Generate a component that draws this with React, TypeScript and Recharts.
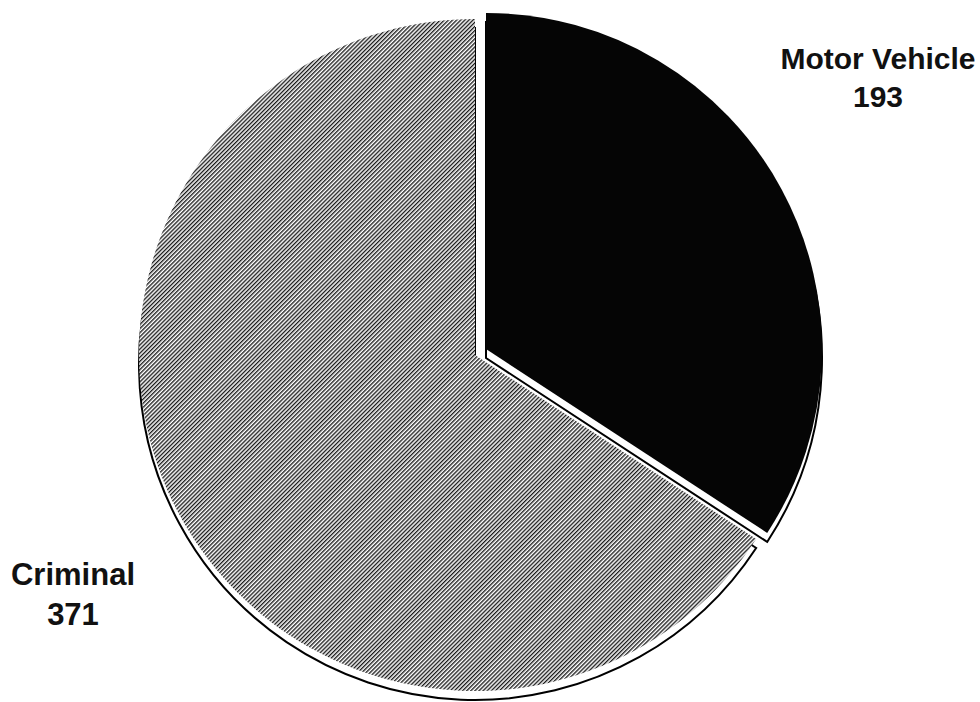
import { PieChart, Pie, Cell } from 'recharts'

const categories = ['Motor Vehicle', 'Criminal']
const counts = [193, 371]

const data = categories.map((name, i) => ({ name, value: counts[i] }))

const W = 980
const H = 702
const R = 336
// criminal slice sits on the base centre, motor vehicle is pulled out up/right
const base = { cx: 475, cy: 355 }
const pulled = { cx: 486, cy: 349 }
const SHADOW = 9

const fills = ['#050505', 'url(#hatch)']
const font = 'Liberation Sans, Arial, sans-serif'

function renderLabel(props: any) {
  const { cx, cy, index, name, value } = props
  if (index === 0) {
    return (
      <text x={cx + 392} y={cy - 280} textAnchor="middle" fill="#111" fontSize={30} fontWeight="bold" fontFamily={font}>
        <tspan x={cx + 392}>{name}</tspan>
        <tspan x={cx + 392} dy={38}>{value}</tspan>
      </text>
    )
  }
  return (
    <text x={cx - 402} y={cy + 230} textAnchor="middle" fill="#111" fontSize={31} fontWeight="bold" fontFamily={font}>
      <tspan x={cx - 402}>{name}</tspan>
      <tspan x={cx - 402} dy={40}>{value}</tspan>
    </text>
  )
}

// one pie per slice so each can have its own centre; the other slice is left empty
function slicePie(key: string, show: number, c: { cx: number; cy: number }, shadow: boolean) {
  return (
    <Pie
      key={key}
      data={data}
      dataKey="value"
      nameKey="name"
      cx={c.cx}
      cy={c.cy + (shadow ? SHADOW : 0)}
      outerRadius={R}
      startAngle={90}
      endAngle={-270}
      isAnimationActive={false}
      labelLine={false}
      label={shadow ? false : (p: any) => (p.index === show ? renderLabel(p) : null)}
    >
      {data.map((d, i) => (
        <Cell
          key={d.name}
          fill={i !== show ? 'none' : shadow ? '#fff' : fills[i]}
          stroke={i !== show ? 'none' : shadow ? '#000' : 'none'}
          strokeWidth={shadow ? 2 : 0}
        />
      ))}
    </Pie>
  )
}

export default function App() {
  return (
    <div style={{ position: 'absolute', left: 0, top: 0, width: W, height: H, background: '#fff' }}>
      <PieChart width={W} height={H} margin={{ top: 0, right: 0, bottom: 0, left: 0 }}>
        <defs>
          <pattern id="hatch" width="2.9" height="2.9" patternUnits="userSpaceOnUse" patternTransform="rotate(45)">
            <rect width="2.9" height="2.9" fill="#fff" />
            <rect width="1.35" height="2.9" fill="#1a1a1a" />
          </pattern>
        </defs>
        {slicePie('crim-shadow', 1, base, true)}
        {slicePie('crim', 1, base, false)}
        {slicePie('mv-shadow', 0, pulled, true)}
        {slicePie('mv', 0, pulled, false)}
      </PieChart>
    </div>
  )
}
